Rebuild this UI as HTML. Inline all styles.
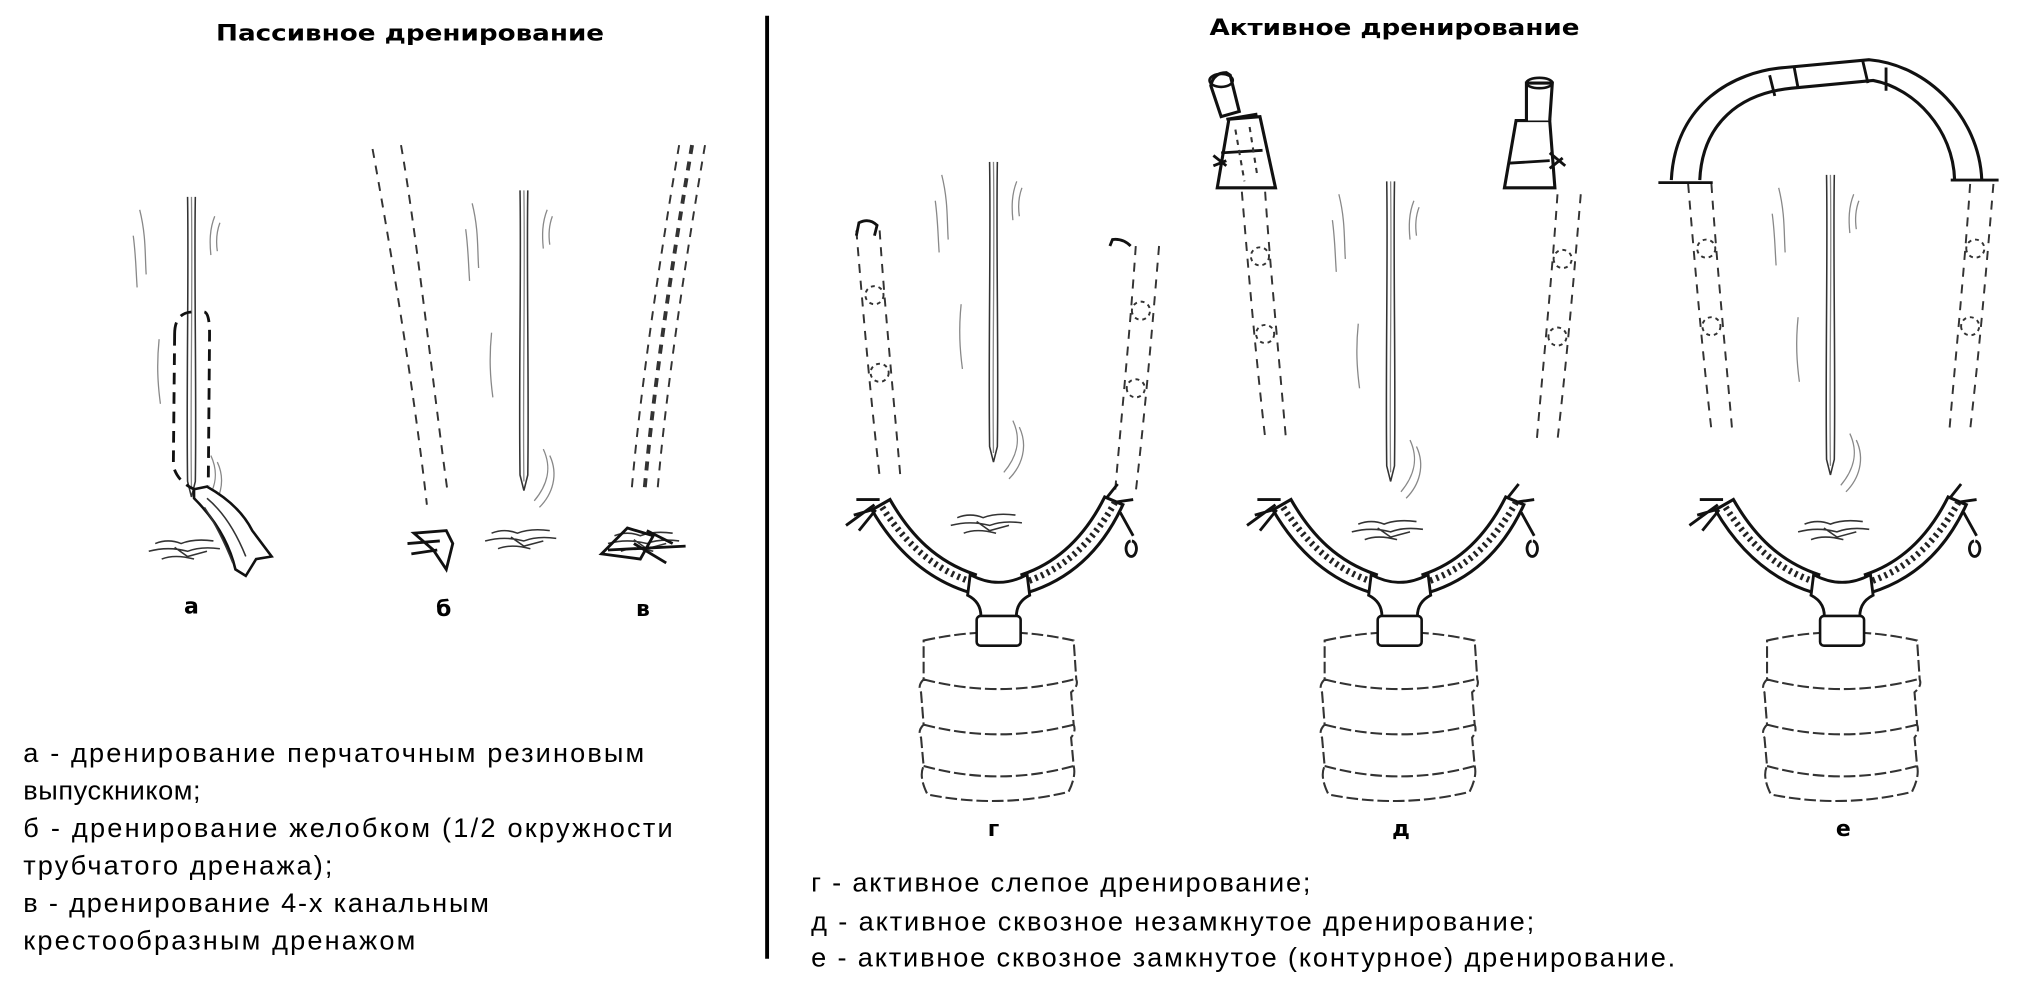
<!DOCTYPE html>
<html><head><meta charset="utf-8"><style>
html,body{margin:0;padding:0;background:#fff;}
svg{display:block;}
text{font-family:"DejaVu Sans","Liberation Sans",sans-serif;fill:#000;}
.t{font-weight:bold;font-size:17px;}
.l{font-weight:bold;font-size:17px;}
.g{font-family:"Liberation Sans",sans-serif;font-size:21px;}
.w{fill:none;stroke:#333;stroke-width:1.2;}
.ws{fill:none;stroke:#888;stroke-width:1;}
.d{fill:none;stroke:#333;stroke-width:1.5;stroke-dasharray:7,6;}
.th{fill:none;stroke:#111;stroke-width:2.2;}
</style></head><body>
<svg width="2018" height="981" viewBox="0 0 1560 758" xmlns="http://www.w3.org/2000/svg">
<defs>
<g id="wound">
  <path class="w" d="M-3,0 C-2,60 -4,150 -3,220 L0,232 L3,220 C4,150 2,60 3,0"/>
  <path class="ws" d="M0,0 C1,80 -1,160 0,225"/>
  <path class="ws" d="M-40,10 C-35,30 -36,45 -35,60 M-45,30 C-43,45 -43,55 -42,70"/>
  <path class="ws" d="M18,15 C14,25 14,35 15,45 M22,20 C19,28 19,35 20,42"/>
  <path class="ws" d="M-25,110 C-27,130 -26,145 -24,160"/>
  <path class="ws" d="M15,200 C22,215 18,228 8,240 M20,205 C27,220 22,235 12,245"/>
</g>
<g id="scar">
  <path class="w" d="M-25,0 Q-15,-4 -5,0 Q5,-4 20,-2 M-30,6 Q-15,2 0,6 Q10,2 25,4 M-10,3 L0,10 L15,6 M-20,12 Q-10,8 5,12"/>
</g>
<g id="dtube">
  <path class="d" d="M0,0 C5,60 10,120 18,190"/>
  <path class="d" d="M18,0 C22,60 28,120 34,190"/>
  <circle cx="14" cy="50" r="7" class="d" style="stroke-dasharray:3,3"/>
  <circle cx="18" cy="110" r="7" class="d" style="stroke-dasharray:3,3"/>
</g>
<g id="collector">
  <path d="M-98,-6 C-80,25 -55,48 -22,58 L-18,44 C-48,34 -68,14 -84,-14 Z" fill="#fff" stroke="#111" stroke-width="2.4"/>
  <path d="M96,-10 C80,25 55,48 22,58 L18,44 C48,34 68,12 82,-16 Z" fill="#fff" stroke="#111" stroke-width="2.4"/>
  <path d="M-90,-8 C-72,20 -50,40 -20,50 M90,-12 C72,20 50,40 20,50" fill="none" stroke="#222" stroke-width="5" stroke-dasharray="2,3"/>
  <path class="th" d="M-98,-6 L-112,-2 M-96,-10 L-118,6 M-92,-14 L-110,-14 M-95,-6 L-108,10 M84,-16 L92,-26 M90,-12 L104,-14 M94,-4 L104,14 M102,18 a4,6 0 1,0 1,0"/>
  <path d="M-22,44 Q0,56 22,44 L24,60 Q12,66 14,80 L-14,80 Q-12,66 -24,60 Z" fill="#fff" stroke="#111" stroke-width="2.2"/>
  <path class="w" style="stroke-width:1.6;stroke-dasharray:9,3" d="M-58,95 Q0,82 58,95 L60,125 Q62,130 56,135 L58,160 Q60,165 56,170 L58,192 Q60,200 54,212 Q0,225 -55,214 Q-62,200 -58,192 L-60,170 Q-63,165 -58,160 L-60,135 Q-63,130 -58,125 Z M-58,125 Q0,140 58,125 M-58,160 Q0,175 58,160 M-58,192 Q0,208 58,192"/>
  <rect x="-17" y="76" width="34" height="23" rx="3" fill="#fff" stroke="#111" stroke-width="2"/>
</g>
</defs>

<text class="t" x="167" y="31" textLength="300" lengthAdjust="spacingAndGlyphs">Пассивное дренирование</text>
<text class="t" x="935" y="27" textLength="286" lengthAdjust="spacingAndGlyphs">Активное дренирование</text>
<line x1="593" y1="12" x2="593" y2="741" stroke="#000" stroke-width="3"/>

<!-- passive а -->
<use href="#wound" x="148" y="152"/>
<use href="#scar" x="145" y="420"/>
<path d="M135,258 Q135,242 148,241 M158,241 Q162,242 162,258 L161,375 M135,258 L134,360 Q137,372 150,378" fill="none" stroke="#111" stroke-width="2.2" stroke-dasharray="9,6"/>
<path d="M150,378 L160,376 Q185,390 195,410 L210,430 L198,432 L190,445 L182,440 Q175,410 150,385 Z" fill="#fff" stroke="#111" stroke-width="2"/>
<path class="w" d="M160,385 Q178,400 190,430 M158,392 Q170,410 180,435"/>
<!-- б -->
<path class="d" d="M288,115 C300,180 320,300 330,390"/>
<path class="d" d="M310,112 C322,180 335,300 346,380"/>
<use href="#wound" x="405" y="147"/>
<use href="#scar" x="405" y="412"/>
<path class="th" d="M320,412 L345,410 L350,420 L345,440 L335,425 Z M315,420 L340,418 M318,428 L338,425"/>
<!-- в -->
<path class="d" d="M525,112 C510,200 495,300 488,382"/>
<path class="d" d="M535,112 C520,200 505,300 498,382" style="stroke-width:3"/>
<path class="d" d="M545,112 C530,200 515,300 508,382"/>
<use href="#scar" x="500" y="414"/>
<path class="th" d="M465,428 L485,408 L505,414 L495,432 Z M470,425 L530,422 M490,420 L515,435 M500,410 L520,420"/>

<text class="l" x="148" y="474" text-anchor="middle">а</text>
<text class="l" x="343" y="476" text-anchor="middle">б</text>
<text class="l" x="497" y="476" text-anchor="middle">в</text>

<!-- г -->
<use href="#wound" x="768" y="125"/>
<use href="#dtube" x="662" y="178"/>
<use href="#dtube" x="850" y="190" transform="translate(1730,0) scale(-1,1) translate(-16,0)"/>
<path class="th" d="M662,182 L664,172 Q672,168 678,174 L676,182 M858,190 L860,185 Q868,184 874,190"/>
<use href="#scar" x="765" y="400"/>
<use href="#collector" x="772" y="400"/>
<text class="l" x="768" y="646" text-anchor="middle">г</text>

<!-- д -->
<use href="#wound" x="1075" y="140"/>
<use href="#dtube" x="960" y="148"/>
<use href="#dtube" x="1166" y="150" transform="translate(2372,0) scale(-1,1) translate(-16,0)"/>
<path d="M941,145 L986,145 L974,90 L950,92 Z" fill="#fff" stroke="#111" stroke-width="2.4"/>
<path d="M936,66 Q938,56 948,56 L951,58 L958,86 L944,90 Z" fill="#fff" stroke="#111" stroke-width="2.4"/>
<ellipse cx="944" cy="62" rx="9" ry="5" fill="none" stroke="#111" stroke-width="2"/>
<path class="th" d="M948,92 L972,88 M944,118 L976,116 M938,120 L948,128 M938,128 L948,124"/>
<path class="w" style="stroke-dasharray:4,4;stroke-width:1.6" d="M955,100 L962,140 M966,98 L972,136"/>
<path d="M1163,145 L1202,145 L1198,93 L1172,93 Z" fill="#fff" stroke="#111" stroke-width="2.4"/>
<path d="M1180,93 L1180,64 L1200,64 L1198,93" fill="#fff" stroke="#111" stroke-width="2.4"/>
<ellipse cx="1190" cy="64" rx="10" ry="4" fill="none" stroke="#111" stroke-width="2"/>
<path class="th" d="M1166,126 L1198,124 M1198,118 L1210,128 M1198,130 L1208,122"/>
<use href="#scar" x="1075" y="405"/>
<use href="#collector" x="1082" y="400"/>
<text class="l" x="1083" y="646" text-anchor="middle">д</text>

<!-- е -->
<use href="#wound" x="1415" y="135"/>
<use href="#dtube" x="1305" y="142"/>
<use href="#dtube" x="1495" y="142" transform="translate(3020,0) scale(-1,1) translate(-16,0)"/>
<path d="M1292,139 C1295,80 1340,55 1380,52 L1445,46 C1490,50 1530,90 1532,139 M1314,139 C1316,95 1345,72 1385,68 L1448,62 C1480,68 1510,100 1511,139" fill="none" stroke="#111" stroke-width="2.4"/>
<path class="th" d="M1282,141 L1324,141 M1508,139 L1545,139 M1368,58 L1372,74 M1387,52 L1390,68 M1440,47 L1444,64 M1458,52 L1458,70"/>
<use href="#scar" x="1420" y="405"/>
<use href="#collector" x="1424" y="400"/>
<text class="l" x="1425" y="646" text-anchor="middle">е</text>

<!-- legends -->
<text class="g" x="18" y="589" textLength="480">а - дренирование перчаточным резиновым</text>
<text class="g" x="18" y="618" textLength="137">выпускником;</text>
<text class="g" x="18" y="647" textLength="502">б - дренирование желобком (1/2 окружности</text>
<text class="g" x="18" y="676" textLength="239">трубчатого дренажа);</text>
<text class="g" x="18" y="705" textLength="360">в - дренирование 4-х канальным</text>
<text class="g" x="18" y="734" textLength="303">крестообразным дренажом</text>
<text class="g" x="627" y="689" textLength="386">г - активное слепое дренирование;</text>
<text class="g" x="627" y="719" textLength="559">д - активное сквозное незамкнутое дренирование;</text>
<text class="g" x="627" y="747" textLength="668">е - активное сквозное замкнутое (контурное) дренирование.</text>
</svg>
</body></html>
